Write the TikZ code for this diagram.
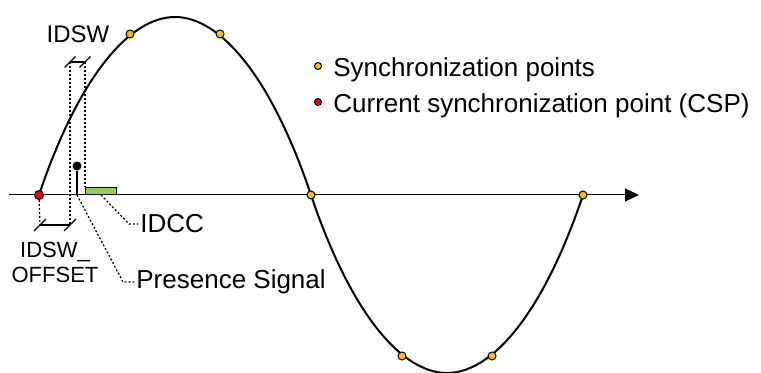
\documentclass[tikz,border=0pt]{standalone}
\usepackage{fontspec}
\setmainfont{Liberation Sans}
\usepackage{tikz}
\usetikzlibrary{arrows.meta,positioning}

\definecolor{syncgold}{RGB}{255,192,0}
\definecolor{cspred}{RGB}{240,0,0}
\definecolor{ccgreen}{RGB}{146,208,80}

\tikzset{
  sync/.style={circle, draw, fill=syncgold, inner sep=0pt, minimum size=4pt, line width=0.5pt},
  csp/.style={sync, fill=cspred, minimum size=4.5pt},
  psdot/.style={circle, fill=black, inner sep=0pt, minimum size=4.5pt},
  ccbox/.style={draw, fill=ccgreen, line width=0.6pt, inner sep=0pt, minimum width=15.5pt, minimum height=3.5pt},
  leader/.style={line width=0.6pt, dash pattern=on 1pt off 1pt},
  dimline/.style={line width=0.6pt},
  lbl/.style={font=\fontsize{13}{15}\selectfont, inner sep=1pt},
  smalllbl/.style={font=\fontsize{11}{13}\selectfont, inner sep=0pt},
}

\begin{document}
\begin{tikzpicture}[x=0.5pt, y=-0.5pt]
    \useasboundingbox (0,0) rectangle (761,373);

    % Axis
    \coordinate (axisL) at (9,195);
    \coordinate (axisR) at (639,195);
    \draw[line width=0.5pt, -{Triangle[length=7pt, width=6.5pt]}] (axisL) -- (axisR);

    % Curve through the synchronization points
    \coordinate (c0) at (39,195);
    \coordinate (c3) at (311,195);
    \coordinate (c6) at (583,195);
    \draw[line width=1pt] (c0) .. controls (79,76) and (130,17) .. (175,17)
        .. controls (220,17) and (271,76) .. (c3)
        .. controls (351,314) and (402,373) .. (447,373)
        .. controls (492,373) and (543,314) .. (c6);

    % Points
    \node[csp] (csp) at (c0) {};
    \node[sync] (s1) at (130,34) {};
    \node[sync] (s2) at (220,34) {};
    \node[sync] (s3) at (c3) {};
    \node[sync] (s4) at (402,356) {};
    \node[sync] (s5) at (492,356) {};
    \node[sync] (s6) at (c6) {};

    % IDCC box and presence signal
    \node[ccbox, anchor=south west] (cc) at (85,195) {};
    \coordinate (ps) at (77,195);
    \node[psdot] (psd) at (77,166) {};
    \draw[line width=1pt] (ps) -- (psd);

    % Dimensions
    \coordinate (idswA) at (70,62);
    \coordinate (idswB) at (85,62);
    \coordinate (offA) at (40,225);
    \coordinate (offB) at (70,225);
    \draw[leader] (idswA) -- (offB);
    \draw[leader] (idswB) -- (cc.north west);
    \draw[leader] (csp) -- (offA);
    \draw[dimline] (idswA) -- (idswB);
    \draw[dimline] (offA) -- (offB);
    \foreach \c in {idswA,idswB} \draw[dimline] (\c) ++(-5.5,5.5) -- ++(11,-11);
    \foreach \c in {offA,offB} \draw[dimline] (\c) ++(-6,6) -- ++(12,-12);

    % Labels
    \node[font=\fontsize{12}{14}\selectfont, inner sep=0pt, anchor=base] (idswTxt) at (78,43) {IDSW};
    \node[smalllbl, anchor=base] (offTxtA) at (55,258) {IDSW\_};
    \node[smalllbl, anchor=base] (offTxtB) at (55,283) {OFFSET};
    \node[lbl, anchor=west] (ccTxt) at (138,224) {IDCC};
    \node[lbl, anchor=west] (psTxt) at (134,282) {Presence Signal};
    \draw[leader] (cc.south) -- (129,224) -- (ccTxt.west);
    \draw[leader] (ps) -- (123,282) -- (psTxt.west);

    % Legend
    \node[sync, minimum size=3.5pt] (lgSync) at (318,66) {};
    \node[csp, minimum size=3.5pt] (lgCsp) at (318,102) {};
    \node[lbl, inner sep=0pt, anchor=base west] (lgSyncTxt) at (333,76.5) {Synchronization points};
    \node[lbl, inner sep=0pt, anchor=base west] (lgCspTxt) at (333,112.5) {Current synchronization point (CSP)};
\end{tikzpicture}
\end{document}
